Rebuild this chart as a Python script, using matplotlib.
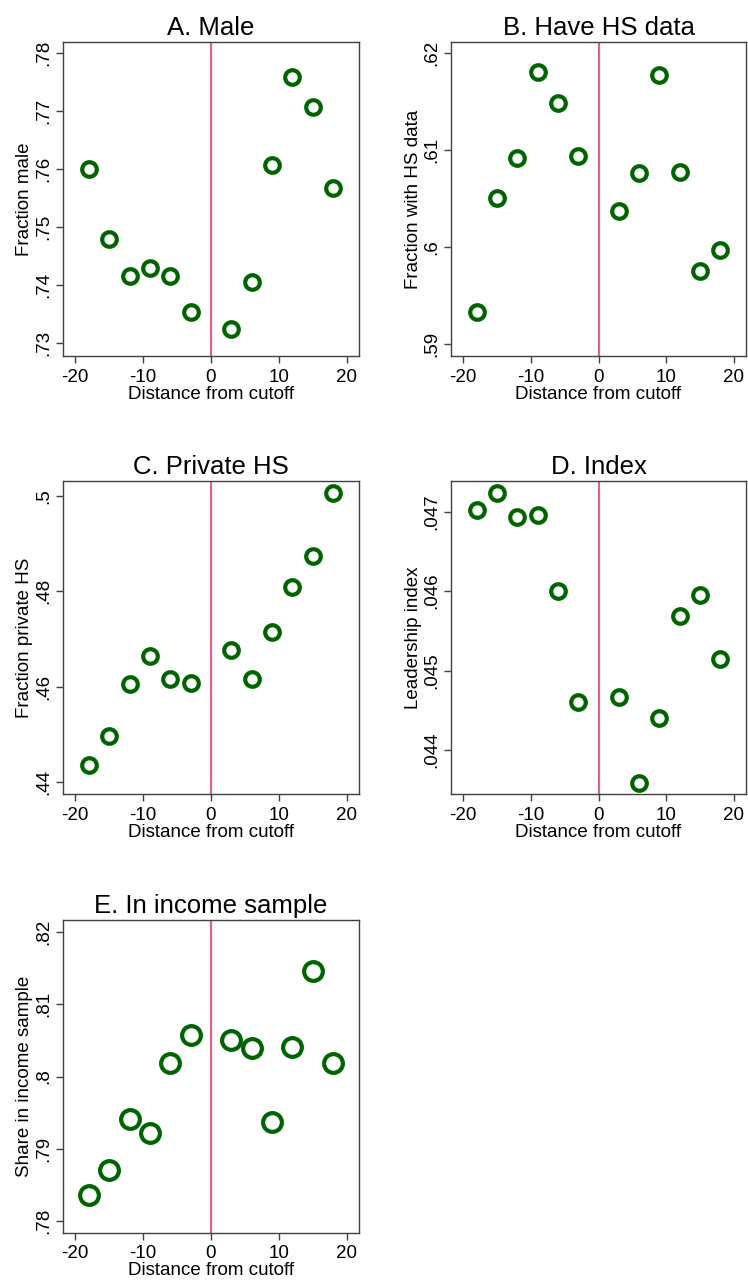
import matplotlib
matplotlib.use("Agg")
import matplotlib.pyplot as plt
from matplotlib.ticker import FuncFormatter

plt.rcParams['font.family'] = ['Liberation Sans', 'DejaVu Sans']
plt.rcParams['axes.unicode_minus'] = False

# ----------------------------------------------------------------------------------------
# Données
distance = [-18, -15, -12, -9, -6, -3, 3, 6, 9, 12, 15, 18]

male = [.7600, .7479, .7415, .7430, .7416, .7354, .7325, .7406, .7607, .7758, .7707, .7568]
hs_data = [.5933, .6050, .6092, .6180, .6148, .6094, .6037, .6076, .6177, .6077, .5975, .5997]
private_hs = [.4436, .4498, .4606, .4664, .4617, .4609, .4678, .4616, .4715, .4809, .4873, .5006]
index = [.047025, .047235, .046929, .046954, .045997, .044600, .044671, .043584, .044398,
         .045691, .045947, .045145]
income = [.7837, .7871, .7941, .7922, .8019, .8057, .8050, .8040, .7937, .8041, .8146, .8018]

titles = ["A. Male", "B. Have HS data", "C. Private HS", "D. Index", "E. In income sample"]
ylabels = ["Fraction male", "Fraction with HS data", "Fraction private HS",
           "Leadership index", "Share in income sample"]
yticks = [[.73, .74, .75, .76, .77, .78],
          [.59, .60, .61, .62],
          [.44, .46, .48, .50],
          [.044, .045, .046, .047],
          [.78, .79, .80, .81, .82]]
ylims = [(.7278, .7819), (.58872, .62114), (.43756, .50307), (.043446, .047386), (.77839, .82161)]
xticks = [-20, -10, 0, 10, 20]

# ----------------------------------------------------------------------------------------

def stata_fmt(v, pos):
    s = ("%.4f" % v).rstrip("0").rstrip(".")
    if s.startswith("0."):
        s = s[1:]
    return s

# positions des axes [gauche, bas, largeur, hauteur]
boxes = [[0.0842, 0.7225, 0.3957, 0.2448],
         [0.6030, 0.7225, 0.3944, 0.2448],
         [0.0842, 0.3811, 0.3957, 0.2440],
         [0.6030, 0.3811, 0.3944, 0.2440],
         [0.0842, 0.0390, 0.3957, 0.2439]]
series = [male, hs_data, private_hs, index, income]
msizes = [10.5, 10.5, 10.5, 10.5, 13.5]

fig = plt.figure(figsize=(7.48, 12.83), dpi=100)

for i in range(5):
    ax = fig.add_axes(boxes[i])
    ax.axvline(0, color="#d9668a", lw=1.6, zorder=1)
    ax.plot(distance, series[i], "o", ms=msizes[i], mfc="none", mec="#006400", mew=3.0, zorder=3)
    ax.set_xlim(-21.8, 21.8)
    ax.set_ylim(*ylims[i])
    ax.set_xticks(xticks)
    ax.set_yticks(yticks[i])
    ax.yaxis.set_major_formatter(FuncFormatter(stata_fmt))
    plt.setp(ax.get_yticklabels(), rotation=90, va="center")
    ax.tick_params(labelsize=13.5, length=5, width=1, color="#404040", pad=3)
    ax.tick_params(axis="x", pad=4)
    for sp in ax.spines.values():
        sp.set_color("#404040")
        sp.set_linewidth(1.0)
    ax.set_title(titles[i], fontsize=18.5, pad=5)
    ax.set_xlabel("Distance from cutoff", fontsize=13.5, labelpad=0)
    ax.set_ylabel(ylabels[i], fontsize=13.5, labelpad=1)

fig.savefig("out.png", dpi=100)
